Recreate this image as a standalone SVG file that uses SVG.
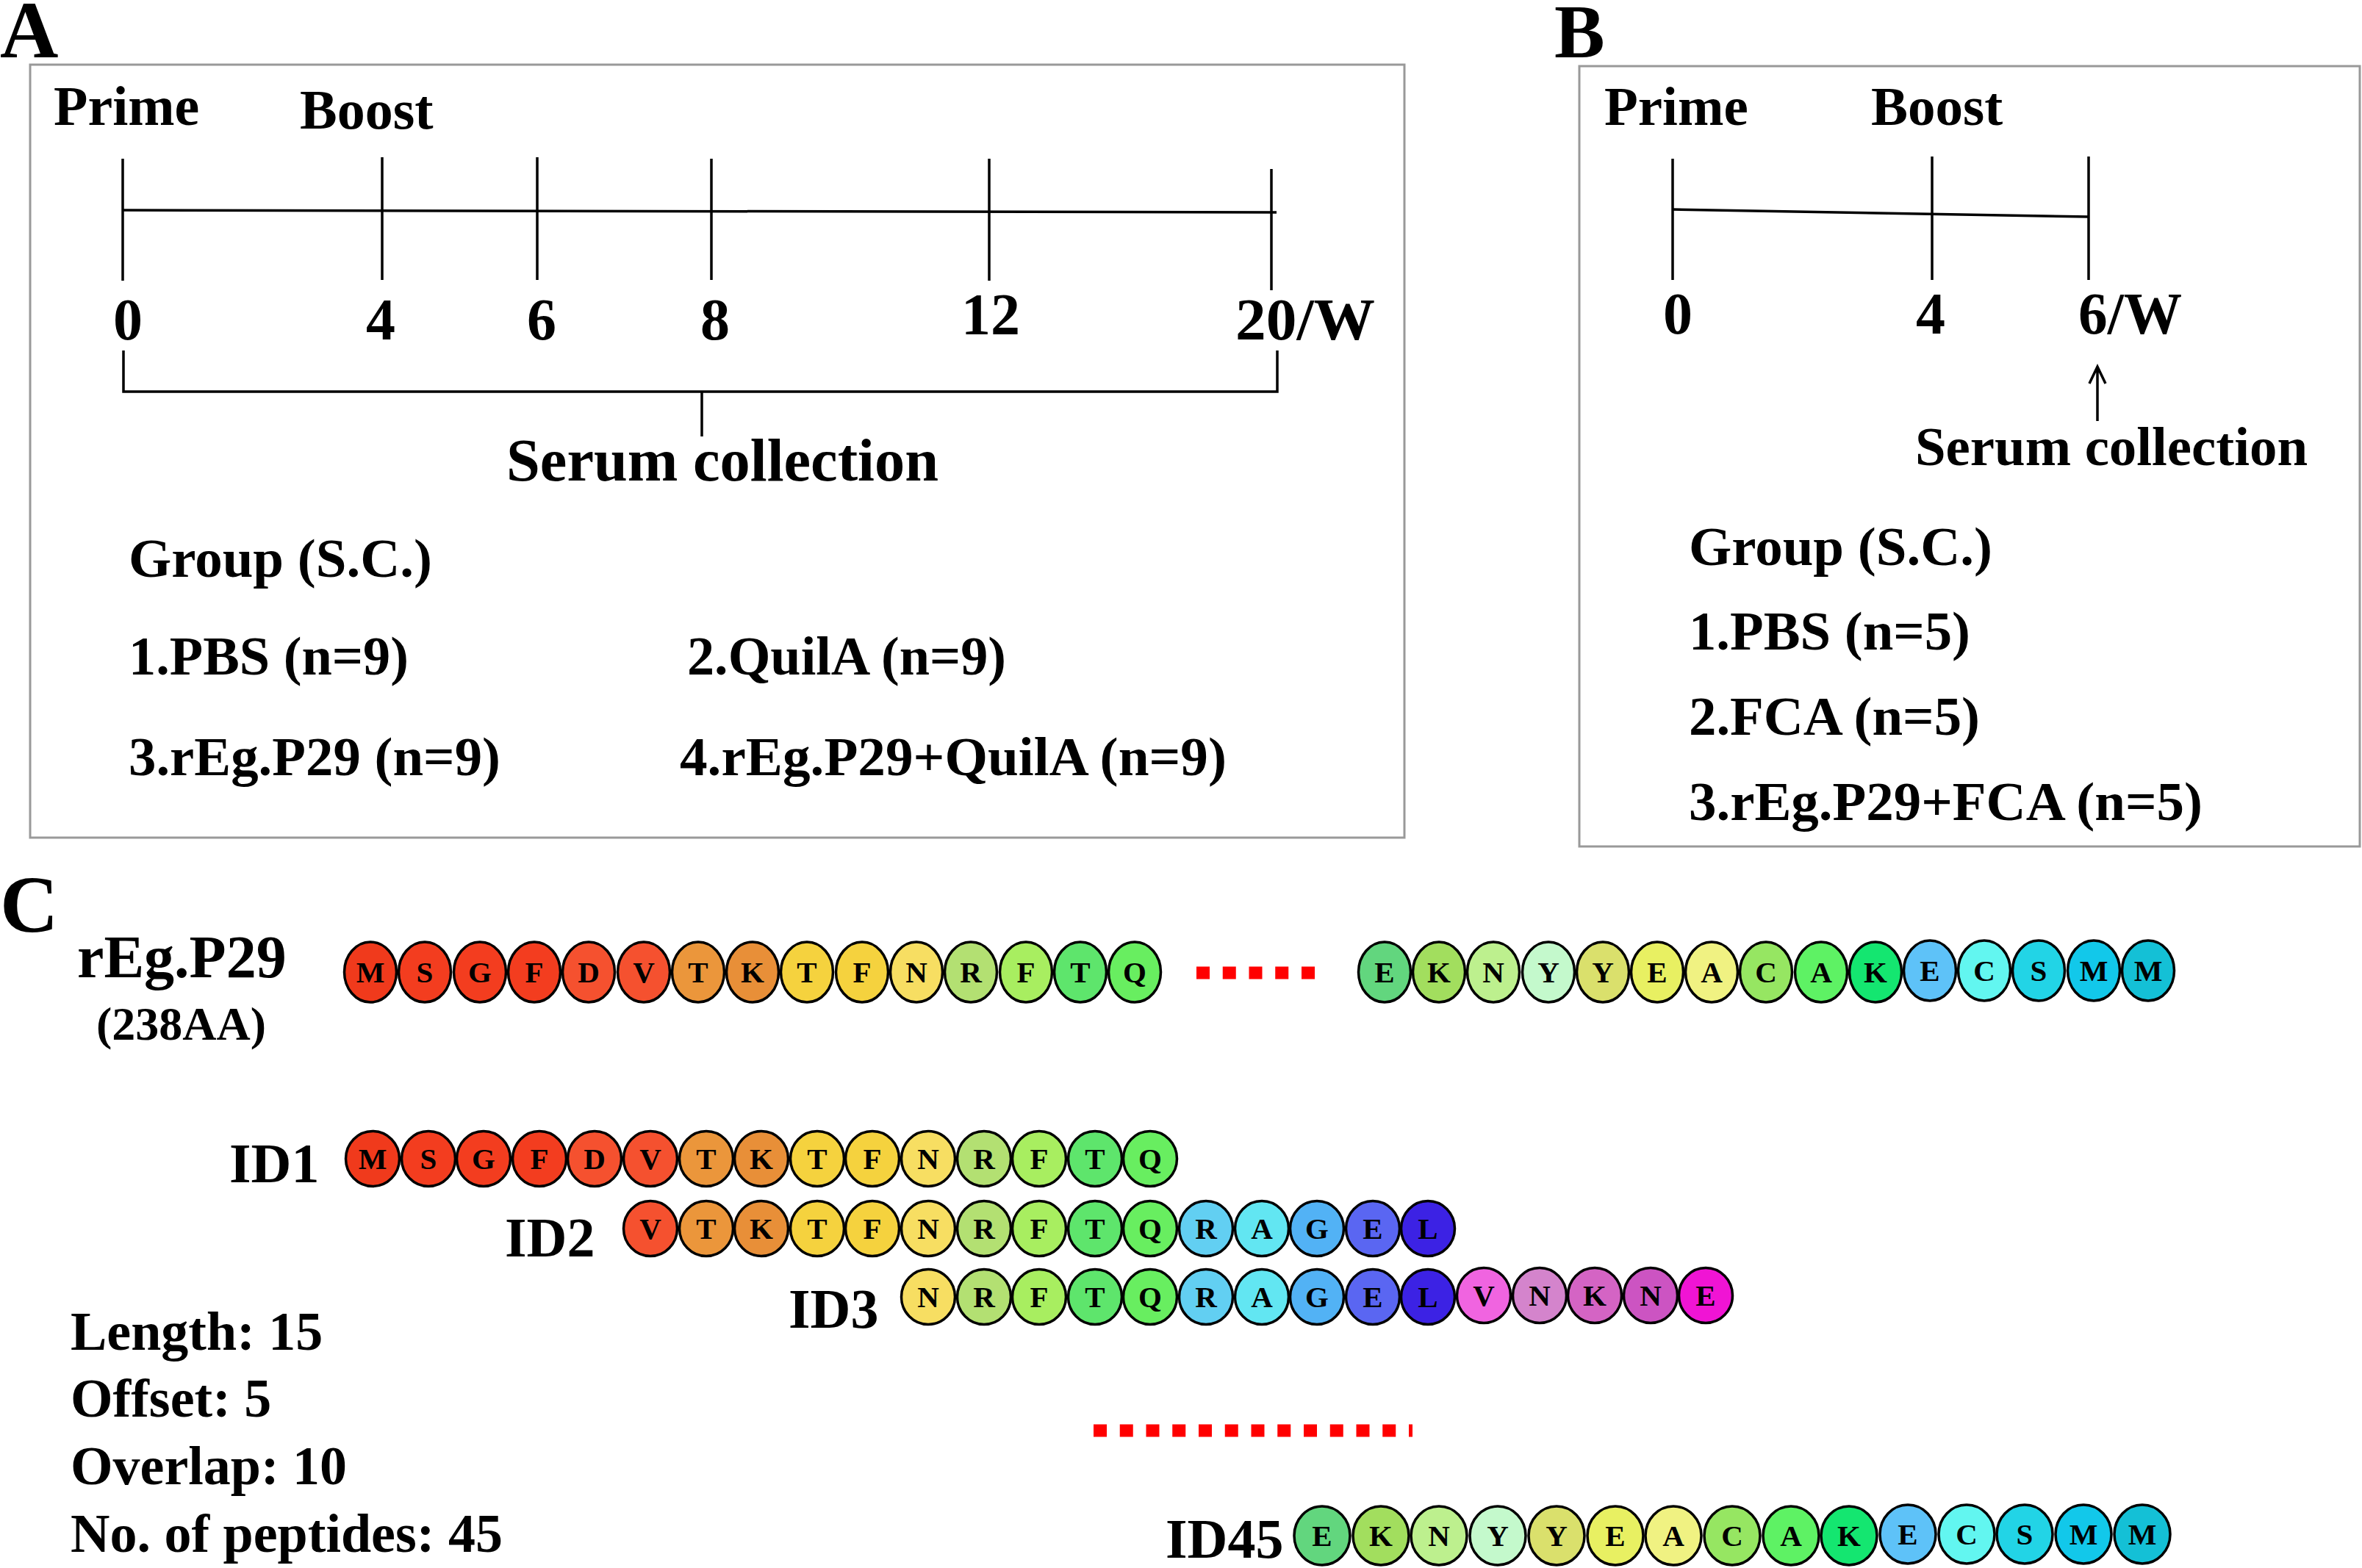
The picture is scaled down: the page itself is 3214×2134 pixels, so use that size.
<svg xmlns="http://www.w3.org/2000/svg" width="3214" height="2134" viewBox="0 0 3214 2134">
<style>
text{font-family:"Liberation Serif","Times New Roman",serif;font-weight:bold;fill:#000}
.lbl{font-size:110px}
.t76{font-size:76px}
.t75{font-size:75px}
.num{font-size:80px}
.mid{text-anchor:middle}
.ln{stroke:#000;stroke-width:3.5;fill:none}
.box{stroke:#999;stroke-width:3;fill:none}
.dash{stroke:#ff0000;stroke-width:17;stroke-dasharray:18 17.75;fill:none}
.c{stroke:#000;stroke-width:3.5}
.aa{font-size:41px;text-anchor:middle}
.pl{font-size:76px}
.info{font-size:74px}
</style>
<rect width="3214" height="2134" fill="#fff"/>

<g id="panelA">
<text class="lbl" x="0" y="78">A</text>
<rect class="box" x="41" y="88" width="1870" height="1052"/>
<text class="t76" x="73" y="170">Prime</text>
<text class="t76" x="408" y="175">Boost</text>
<text class="num mid" x="174" y="462">0</text>
<text class="num mid" x="518" y="462">4</text>
<text class="num mid" x="737" y="462">6</text>
<text class="num mid" x="973" y="462">8</text>
<text class="num mid" x="1348" y="455">12</text>
<text class="num" x="1681" y="462" textLength="190" lengthAdjust="spacingAndGlyphs">20/W</text>
<text x="689" y="654" style="font-size:83px" textLength="588" lengthAdjust="spacingAndGlyphs">Serum collection</text>
<text class="t75" x="175" y="785" textLength="413" lengthAdjust="spacingAndGlyphs">Group (S.C.)</text>
<text class="t75" x="175" y="918" textLength="381" lengthAdjust="spacingAndGlyphs">1.PBS (n=9)</text>
<text class="t75" x="935" y="918" textLength="434" lengthAdjust="spacingAndGlyphs">2.QuilA (n=9)</text>
<text class="t75" x="175" y="1055" textLength="506" lengthAdjust="spacingAndGlyphs">3.rEg.P29 (n=9)</text>
<text class="t75" x="925" y="1055" textLength="744" lengthAdjust="spacingAndGlyphs">4.rEg.P29+QuilA (n=9)</text>
</g>

<g id="panelB">
<text x="2115" y="78" style="font-size:103px">B</text>
<rect class="box" x="2149" y="90" width="1062" height="1062"/>
<text class="t75" x="2183" y="170">Prime</text>
<text class="t75" x="2546" y="170">Boost</text>
<text class="num mid" x="2283" y="454">0</text>
<text class="num mid" x="2627" y="454">4</text>
<text class="num" x="2828" y="454" textLength="141" lengthAdjust="spacingAndGlyphs">6/W</text>
<text class="t75" x="2606" y="633" textLength="534" lengthAdjust="spacingAndGlyphs">Serum collection</text>
<text class="t75" x="2298" y="769" textLength="413" lengthAdjust="spacingAndGlyphs">Group (S.C.)</text>
<text class="t75" x="2298" y="884" textLength="383" lengthAdjust="spacingAndGlyphs">1.PBS (n=5)</text>
<text class="t75" x="2298" y="1000" textLength="396" lengthAdjust="spacingAndGlyphs">2.FCA (n=5)</text>
<text class="t75" x="2298" y="1116" textLength="699" lengthAdjust="spacingAndGlyphs">3.rEg.P29+FCA (n=5)</text>
</g>

<g id="connectors">
<path class="ln" d="M167,286 L1737,289"/>
<path class="ln" d="M167,216 V382 M520,214 V381 M731,214 V381 M968,216 V381 M1346,216 V382 M1730,230 V395"/>
<path class="ln" d="M168,477 V533 H1738 V477 M955,533 V594"/>
<path class="ln" d="M2276,285 L2842,295"/>
<path class="ln" d="M2276,216 V381 M2629,213 V381 M2842,213 V381"/>
<path class="ln" d="M2854,573 V500 M2843,522 L2854,499 L2865,522"/>
<path class="dash" d="M1628,1324 H1790"/>
<path class="dash" d="M1488,1947 H1922"/>
</g>

<g id="panelC">
<text x="0" y="1268" style="font-size:110px">C</text>
<text x="105" y="1330" style="font-size:82px">rEg.P29</text>
<text x="131" y="1415" style="font-size:64px">(238AA)</text>
<text class="info" x="96" y="1837">Length: 15</text>
<text class="info" x="96" y="1928">Offset: 5</text>
<text class="info" x="96" y="2020">Overlap: 10</text>
<text class="info" x="96" y="2112">No. of peptides: 45</text>
</g>

<g id="rEgP29-seq">
<g transform="translate(0,1323)">
<ellipse class="c" cx="504" cy="0" rx="35.5" ry="41" fill="#F03A1C"/><text class="aa" x="504" y="14">M</text>
<ellipse class="c" cx="578" cy="0" rx="35.5" ry="41" fill="#F33D1F"/><text class="aa" x="578" y="14">S</text>
<ellipse class="c" cx="653" cy="0" rx="35.5" ry="41" fill="#F33D1F"/><text class="aa" x="653" y="14">G</text>
<ellipse class="c" cx="727" cy="0" rx="35.5" ry="41" fill="#F33D1F"/><text class="aa" x="727" y="14">F</text>
<ellipse class="c" cx="801" cy="0" rx="35.5" ry="41" fill="#F5512F"/><text class="aa" x="801" y="14">D</text>
<ellipse class="c" cx="876" cy="0" rx="35.5" ry="41" fill="#F5512F"/><text class="aa" x="876" y="14">V</text>
<ellipse class="c" cx="950" cy="0" rx="35.5" ry="41" fill="#EB963B"/><text class="aa" x="950" y="14">T</text>
<ellipse class="c" cx="1024" cy="0" rx="35.5" ry="41" fill="#E88F38"/><text class="aa" x="1024" y="14">K</text>
<ellipse class="c" cx="1098" cy="0" rx="35.5" ry="41" fill="#F5D23E"/><text class="aa" x="1098" y="14">T</text>
<ellipse class="c" cx="1173" cy="0" rx="35.5" ry="41" fill="#F5D23E"/><text class="aa" x="1173" y="14">F</text>
<ellipse class="c" cx="1247" cy="0" rx="35.5" ry="41" fill="#F7DE62"/><text class="aa" x="1247" y="14">N</text>
<ellipse class="c" cx="1321" cy="0" rx="35.5" ry="41" fill="#B3E072"/><text class="aa" x="1321" y="14">R</text>
<ellipse class="c" cx="1396" cy="0" rx="35.5" ry="41" fill="#A8EE60"/><text class="aa" x="1396" y="14">F</text>
<ellipse class="c" cx="1470" cy="0" rx="35.5" ry="41" fill="#5EE56C"/><text class="aa" x="1470" y="14">T</text>
<ellipse class="c" cx="1544" cy="0" rx="35.5" ry="41" fill="#68EE60"/><text class="aa" x="1544" y="14">Q</text>
<ellipse class="c" cx="1884" cy="0" rx="35.5" ry="41" fill="#62D67E"/><text class="aa" x="1884" y="14">E</text>
<ellipse class="c" cx="1958" cy="0" rx="35.5" ry="41" fill="#A2DE5E"/><text class="aa" x="1958" y="14">K</text>
<ellipse class="c" cx="2032" cy="0" rx="35.5" ry="41" fill="#BDF08E"/><text class="aa" x="2032" y="14">N</text>
<ellipse class="c" cx="2107" cy="0" rx="35.5" ry="41" fill="#C4F9CC"/><text class="aa" x="2107" y="14">Y</text>
<ellipse class="c" cx="2181" cy="0" rx="35.5" ry="41" fill="#DAE06C"/><text class="aa" x="2181" y="14">Y</text>
<ellipse class="c" cx="2255" cy="0" rx="35.5" ry="41" fill="#E8F062"/><text class="aa" x="2255" y="14">E</text>
<ellipse class="c" cx="2329" cy="0" rx="35.5" ry="41" fill="#F0F282"/><text class="aa" x="2329" y="14">A</text>
<ellipse class="c" cx="2403" cy="0" rx="35.5" ry="41" fill="#96E662"/><text class="aa" x="2403" y="14">C</text>
<ellipse class="c" cx="2478" cy="0" rx="35.5" ry="41" fill="#5EF264"/><text class="aa" x="2478" y="14">A</text>
<ellipse class="c" cx="2552" cy="0" rx="35.5" ry="41" fill="#14E670"/><text class="aa" x="2552" y="14">K</text>
<ellipse class="c" cx="2626" cy="-2" rx="35.5" ry="41" fill="#5EC2F8"/><text class="aa" x="2626" y="12">E</text>
<ellipse class="c" cx="2700" cy="-2" rx="35.5" ry="41" fill="#62F6F0"/><text class="aa" x="2700" y="12">C</text>
<ellipse class="c" cx="2774" cy="-2" rx="35.5" ry="41" fill="#22D4E6"/><text class="aa" x="2774" y="12">S</text>
<ellipse class="c" cx="2849" cy="-2" rx="35.5" ry="41" fill="#12C8EA"/><text class="aa" x="2849" y="12">M</text>
<ellipse class="c" cx="2923" cy="-2" rx="35.5" ry="41" fill="#14C0D6"/><text class="aa" x="2923" y="12">M</text>
</g>
</g>

<g id="ID1">
<text class="pl" x="312" y="1609">ID1</text>
<g transform="translate(0,1577)">
<ellipse class="c" cx="507" cy="0" rx="36.5" ry="37.5" fill="#F03A1C"/><text class="aa" x="507" y="14">M</text>
<ellipse class="c" cx="583" cy="0" rx="36.5" ry="37.5" fill="#F33D1F"/><text class="aa" x="583" y="14">S</text>
<ellipse class="c" cx="658" cy="0" rx="36.5" ry="37.5" fill="#F33D1F"/><text class="aa" x="658" y="14">G</text>
<ellipse class="c" cx="734" cy="0" rx="36.5" ry="37.5" fill="#F33D1F"/><text class="aa" x="734" y="14">F</text>
<ellipse class="c" cx="809" cy="0" rx="36.5" ry="37.5" fill="#F5512F"/><text class="aa" x="809" y="14">D</text>
<ellipse class="c" cx="885" cy="0" rx="36.5" ry="37.5" fill="#F5512F"/><text class="aa" x="885" y="14">V</text>
<ellipse class="c" cx="961" cy="0" rx="36.5" ry="37.5" fill="#EB963B"/><text class="aa" x="961" y="14">T</text>
<ellipse class="c" cx="1036" cy="0" rx="36.5" ry="37.5" fill="#E88F38"/><text class="aa" x="1036" y="14">K</text>
<ellipse class="c" cx="1112" cy="0" rx="36.5" ry="37.5" fill="#F5D23E"/><text class="aa" x="1112" y="14">T</text>
<ellipse class="c" cx="1187" cy="0" rx="36.5" ry="37.5" fill="#F5D23E"/><text class="aa" x="1187" y="14">F</text>
<ellipse class="c" cx="1263" cy="0" rx="36.5" ry="37.5" fill="#F7DE62"/><text class="aa" x="1263" y="14">N</text>
<ellipse class="c" cx="1339" cy="0" rx="36.5" ry="37.5" fill="#B3E072"/><text class="aa" x="1339" y="14">R</text>
<ellipse class="c" cx="1414" cy="0" rx="36.5" ry="37.5" fill="#A8EE60"/><text class="aa" x="1414" y="14">F</text>
<ellipse class="c" cx="1490" cy="0" rx="36.5" ry="37.5" fill="#5EE56C"/><text class="aa" x="1490" y="14">T</text>
<ellipse class="c" cx="1565" cy="0" rx="36.5" ry="37.5" fill="#68EE60"/><text class="aa" x="1565" y="14">Q</text>
</g>
</g>

<g id="ID2">
<text class="pl" x="687" y="1710">ID2</text>
<g transform="translate(0,1672)">
<ellipse class="c" cx="885" cy="0" rx="36.5" ry="37.5" fill="#F5512F"/><text class="aa" x="885" y="14">V</text>
<ellipse class="c" cx="961" cy="0" rx="36.5" ry="37.5" fill="#EB963B"/><text class="aa" x="961" y="14">T</text>
<ellipse class="c" cx="1036" cy="0" rx="36.5" ry="37.5" fill="#E88F38"/><text class="aa" x="1036" y="14">K</text>
<ellipse class="c" cx="1112" cy="0" rx="36.5" ry="37.5" fill="#F5D23E"/><text class="aa" x="1112" y="14">T</text>
<ellipse class="c" cx="1187" cy="0" rx="36.5" ry="37.5" fill="#F5D23E"/><text class="aa" x="1187" y="14">F</text>
<ellipse class="c" cx="1263" cy="0" rx="36.5" ry="37.5" fill="#F7DE62"/><text class="aa" x="1263" y="14">N</text>
<ellipse class="c" cx="1339" cy="0" rx="36.5" ry="37.5" fill="#B3E072"/><text class="aa" x="1339" y="14">R</text>
<ellipse class="c" cx="1414" cy="0" rx="36.5" ry="37.5" fill="#A8EE60"/><text class="aa" x="1414" y="14">F</text>
<ellipse class="c" cx="1490" cy="0" rx="36.5" ry="37.5" fill="#5EE56C"/><text class="aa" x="1490" y="14">T</text>
<ellipse class="c" cx="1565" cy="0" rx="36.5" ry="37.5" fill="#68EE60"/><text class="aa" x="1565" y="14">Q</text>
<ellipse class="c" cx="1641" cy="0" rx="36.5" ry="37.5" fill="#62CFF2"/><text class="aa" x="1641" y="14">R</text>
<ellipse class="c" cx="1717" cy="0" rx="36.5" ry="37.5" fill="#62E6F2"/><text class="aa" x="1717" y="14">A</text>
<ellipse class="c" cx="1792" cy="0" rx="36.5" ry="37.5" fill="#52B2F5"/><text class="aa" x="1792" y="14">G</text>
<ellipse class="c" cx="1868" cy="0" rx="36.5" ry="37.5" fill="#5A66F2"/><text class="aa" x="1868" y="14">E</text>
<ellipse class="c" cx="1943" cy="0" rx="36.5" ry="37.5" fill="#3C22E4"/><text class="aa" x="1943" y="14">L</text>
</g>
</g>

<g id="ID3">
<text class="pl" x="1073" y="1807">ID3</text>
<g transform="translate(0,1765)">
<ellipse class="c" cx="1263" cy="0" rx="36.5" ry="37.5" fill="#F7DE62"/><text class="aa" x="1263" y="14">N</text>
<ellipse class="c" cx="1339" cy="0" rx="36.5" ry="37.5" fill="#B3E072"/><text class="aa" x="1339" y="14">R</text>
<ellipse class="c" cx="1414" cy="0" rx="36.5" ry="37.5" fill="#A8EE60"/><text class="aa" x="1414" y="14">F</text>
<ellipse class="c" cx="1490" cy="0" rx="36.5" ry="37.5" fill="#5EE56C"/><text class="aa" x="1490" y="14">T</text>
<ellipse class="c" cx="1565" cy="0" rx="36.5" ry="37.5" fill="#68EE60"/><text class="aa" x="1565" y="14">Q</text>
<ellipse class="c" cx="1641" cy="0" rx="36.5" ry="37.5" fill="#62CFF2"/><text class="aa" x="1641" y="14">R</text>
<ellipse class="c" cx="1717" cy="0" rx="36.5" ry="37.5" fill="#62E6F2"/><text class="aa" x="1717" y="14">A</text>
<ellipse class="c" cx="1792" cy="0" rx="36.5" ry="37.5" fill="#52B2F5"/><text class="aa" x="1792" y="14">G</text>
<ellipse class="c" cx="1868" cy="0" rx="36.5" ry="37.5" fill="#5A66F2"/><text class="aa" x="1868" y="14">E</text>
<ellipse class="c" cx="1943" cy="0" rx="36.5" ry="37.5" fill="#3C22E4"/><text class="aa" x="1943" y="14">L</text>
<ellipse class="c" cx="2019" cy="-2" rx="36.5" ry="37.5" fill="#F064E0"/><text class="aa" x="2019" y="12">V</text>
<ellipse class="c" cx="2095" cy="-2" rx="36.5" ry="37.5" fill="#D484CC"/><text class="aa" x="2095" y="12">N</text>
<ellipse class="c" cx="2170" cy="-2" rx="36.5" ry="37.5" fill="#D464C4"/><text class="aa" x="2170" y="12">K</text>
<ellipse class="c" cx="2246" cy="-2" rx="36.5" ry="37.5" fill="#CC54C2"/><text class="aa" x="2246" y="12">N</text>
<ellipse class="c" cx="2321" cy="-2" rx="36.5" ry="37.5" fill="#F014D4"/><text class="aa" x="2321" y="12">E</text>
</g>
</g>

<g id="ID45">
<text class="pl" x="1586" y="2120">ID45</text>
<g transform="translate(0,2090)">
<ellipse class="c" cx="1799" cy="0" rx="38" ry="40" fill="#62D67E"/><text class="aa" x="1799" y="14">E</text>
<ellipse class="c" cx="1879" cy="0" rx="38" ry="40" fill="#A2DE5E"/><text class="aa" x="1879" y="14">K</text>
<ellipse class="c" cx="1958" cy="0" rx="38" ry="40" fill="#BDF08E"/><text class="aa" x="1958" y="14">N</text>
<ellipse class="c" cx="2038" cy="0" rx="38" ry="40" fill="#C4F9CC"/><text class="aa" x="2038" y="14">Y</text>
<ellipse class="c" cx="2118" cy="0" rx="38" ry="40" fill="#DAE06C"/><text class="aa" x="2118" y="14">Y</text>
<ellipse class="c" cx="2198" cy="0" rx="38" ry="40" fill="#E8F062"/><text class="aa" x="2198" y="14">E</text>
<ellipse class="c" cx="2277" cy="0" rx="38" ry="40" fill="#F0F282"/><text class="aa" x="2277" y="14">A</text>
<ellipse class="c" cx="2357" cy="0" rx="38" ry="40" fill="#96E662"/><text class="aa" x="2357" y="14">C</text>
<ellipse class="c" cx="2437" cy="0" rx="38" ry="40" fill="#5EF264"/><text class="aa" x="2437" y="14">A</text>
<ellipse class="c" cx="2516" cy="0" rx="38" ry="40" fill="#14E670"/><text class="aa" x="2516" y="14">K</text>
<ellipse class="c" cx="2596" cy="-2" rx="38" ry="40" fill="#5EC2F8"/><text class="aa" x="2596" y="12">E</text>
<ellipse class="c" cx="2676" cy="-2" rx="38" ry="40" fill="#62F6F0"/><text class="aa" x="2676" y="12">C</text>
<ellipse class="c" cx="2755" cy="-2" rx="38" ry="40" fill="#22D4E6"/><text class="aa" x="2755" y="12">S</text>
<ellipse class="c" cx="2835" cy="-2" rx="38" ry="40" fill="#12C8EA"/><text class="aa" x="2835" y="12">M</text>
<ellipse class="c" cx="2915" cy="-2" rx="38" ry="40" fill="#14C0D6"/><text class="aa" x="2915" y="12">M</text>
</g>
</g>
</svg>
